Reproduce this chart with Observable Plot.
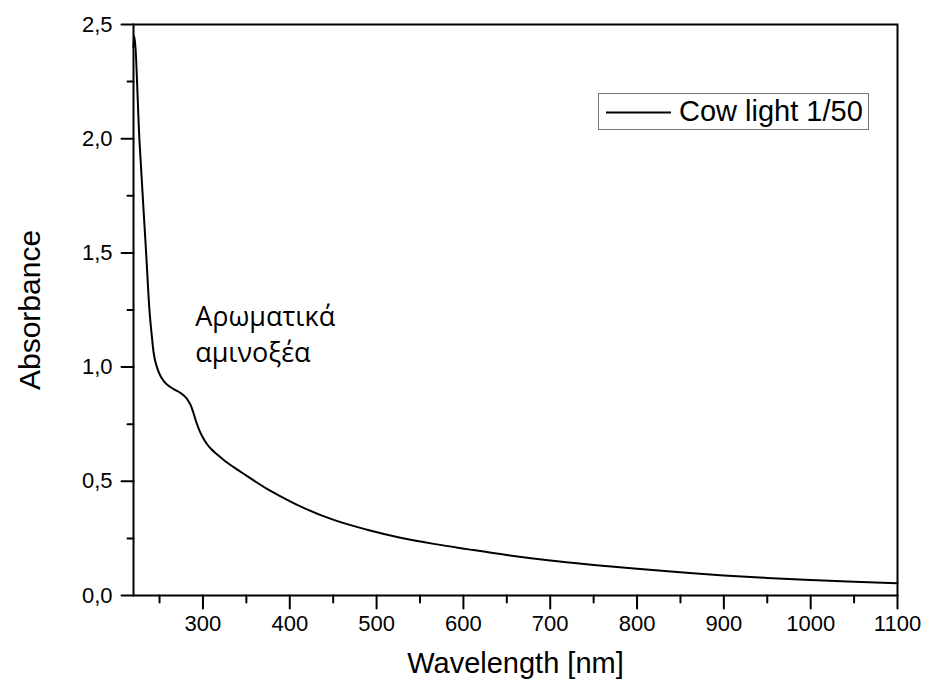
<!DOCTYPE html>
<html>
<head>
<meta charset="utf-8">
<script src="https://cdn.jsdelivr.net/npm/d3@7"></script>
<script src="https://cdn.jsdelivr.net/npm/@observablehq/plot@0.6"></script>
<style>
  html, body { margin: 0; padding: 0; background: #fff; }
  #wrap { position: relative; width: 926px; height: 689px; }
  #legend {
    position: absolute; left: 598px; top: 93px; width: 271px; height: 37px;
    border: 1px solid #777; background: #fff; box-sizing: border-box;
    font-family: "Liberation Sans", Arial, sans-serif; font-size: 29px; color: #000;
  }
  #legend svg { position: absolute; left: 0; top: 0; }
  #legend span { position: absolute; left: 80px; top: 1px; line-height: 33px; white-space: nowrap; }
</style>
</head>
<body>
<div id="wrap">
  <div id="chart"></div>
  <div id="legend"><svg width="80" height="37"><line x1="7" x2="72" y1="18.5" y2="18.5" stroke="#000" stroke-width="2"/></svg><span>Cow light 1/50</span></div>
</div>
<script>
const wavelength = [220, 220.8, 226.9, 234.6, 238.4, 241, 243.1, 247, 250.8, 254.6, 260.4, 266.1, 272, 277.6, 280.5, 283, 286, 289, 292, 296, 300.7, 305, 310, 316.1, 325, 335.3, 350, 373.8, 390, 412.2, 450.6, 489.1, 527.5, 565.9, 604.4, 650, 700, 750, 800, 850, 900, 950, 1000, 1050, 1100];
const absorbance = [2.40, 2.45, 1.99, 1.497, 1.248, 1.14, 1.065, 1.0, 0.963, 0.94, 0.918, 0.904, 0.892, 0.877, 0.866, 0.853, 0.832, 0.800, 0.763, 0.722, 0.686, 0.661, 0.639, 0.618, 0.590, 0.562, 0.525, 0.467, 0.433, 0.390, 0.331, 0.288, 0.253, 0.226, 0.203, 0.177, 0.153, 0.134, 0.117, 0.102, 0.088, 0.077, 0.068, 0.060, 0.054];
const xMajorTicks = [300, 400, 500, 600, 700, 800, 900, 1000, 1100];
const xMinorTicks = [250, 350, 450, 550, 650, 750, 850, 950, 1050];
const yMajorTicks = [0, 0.5, 1.0, 1.5, 2.0, 2.5];
const yMinorTicks = [0.25, 0.75, 1.25, 1.75, 2.25];
const annotation = [{wl: 291, a: 1.29, label: "Αρωματικά\nαμινοξέα"}];

const data = wavelength.map((w, i) => ({w, a: absorbance[i]}));
const fmtY = d => d.toFixed(1).replace(".", ",");
const fmtX = d => String(d);

// tick shape: a straight segment from the anchor point
const seg = {draw(context, l) { context.moveTo(0, 0); context.lineTo(0, -l); }};
const tickStyle = {stroke: "#000", strokeWidth: 2, shape: seg, anchor: "start"};

const chart = Plot.plot({
  width: 926,
  height: 689,
  marginLeft: 133,
  marginRight: 29,
  marginTop: 24,
  marginBottom: 94,
  style: {fontFamily: "'Liberation Sans', Arial, sans-serif", fontSize: "22px", color: "#000", background: "#fff"},
  x: {domain: [220, 1100]},
  y: {domain: [0, 2.5]},
  marks: [
    Plot.line(data, {x: "w", y: "a", stroke: "#000", strokeWidth: 2, curve: "monotone-x"}),
    Plot.vector(xMinorTicks, {x: d => d, y: () => 0, length: 7, rotate: 180, ...tickStyle}),
    Plot.vector(xMajorTicks, {x: d => d, y: () => 0, length: 13, rotate: 180, ...tickStyle}),
    Plot.vector(yMinorTicks, {x: () => 220, y: d => d, length: 6, rotate: -90, ...tickStyle}),
    Plot.vector(yMajorTicks, {x: () => 220, y: d => d, length: 12, rotate: -90, ...tickStyle}),
    Plot.frame({stroke: "#000", strokeWidth: 2}),
    Plot.axisX({ticks: xMajorTicks, tickSize: 0, tickPadding: 20, tickFormat: fmtX, fontSize: 22, label: null}),
    Plot.axisY({ticks: yMajorTicks, tickSize: 0, tickPadding: 21, tickFormat: fmtY, fontSize: 22, label: null}),
    Plot.text(["Wavelength [nm]"], {frameAnchor: "bottom", dy: 77, fontSize: 29, textAnchor: "middle", text: d => d}),
    Plot.text(["Absorbance"], {frameAnchor: "left", dx: -103, rotate: -90, textAnchor: "middle", fontSize: 30, text: d => d}),
    Plot.text(annotation, {x: "wl", y: "a", text: "label", textAnchor: "start", lineAnchor: "top", lineHeight: 1.32, fontSize: 27, fontFamily: "'Open Sans', 'Noto Sans', sans-serif"})
  ]
});
document.getElementById("chart").appendChild(chart);
</script>
</body>
</html>
